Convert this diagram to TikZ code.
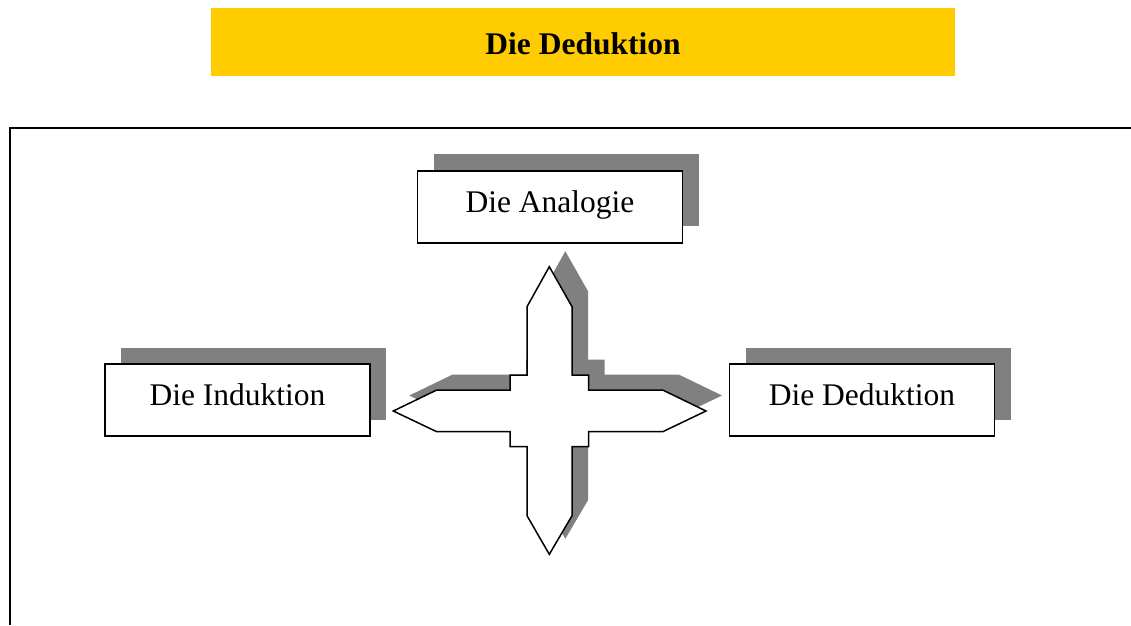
\documentclass[tikz,border=0pt]{standalone}
\usepackage{fontspec}
\setmainfont{Liberation Serif}
\usetikzlibrary{shadows}
\definecolor{titleyellow}{HTML}{FFCC00}
\definecolor{shadowgray}{HTML}{808080}
\newcommand{\fourarrowpath}{%
  (549.3,266.7) -- (572,306.7) -- (572,375) -- (588.7,375) -- (588.7,390)
  -- (662.7,390) -- (706,411) -- (662.7,431.7) -- (588.7,431.7)
  -- (588.7,446.7) -- (572,446.7) -- (572,515.7) -- (549.3,554.3)
  -- (527,515.7) -- (527,446.7) -- (510,446.7) -- (510,431.7)
  -- (436.7,431.7) -- (393.3,411) -- (436.7,390) -- (510,390)
  -- (510,375) -- (527,375) -- (527,306.7) -- cycle}
\tikzset{
  conceptbox/.style={draw=black, line width=1.8pt, fill=white, inner sep=0pt,
    minimum width=265pt, minimum height=72pt, text height=16pt, text depth=5pt,
    font=\fontsize{31.5}{36}\selectfont,
    general shadow={fill=shadowgray, shadow xshift=16pt, shadow yshift=16.5pt}},
  titlebar/.style={fill=titleyellow, inner sep=0pt, minimum width=744pt,
    minimum height=68pt, text height=25pt, text depth=0pt,
    font=\bfseries\fontsize{31.5}{36}\selectfont},
  frameline/.style={line width=2pt},
  crossline/.style={draw=black, line width=1.5pt, fill=white, line join=miter},
  crossshadow/.style={fill=shadowgray}
}
\begin{document}
\begin{tikzpicture}[x=1pt, y=-1pt]
  \useasboundingbox (0,0) rectangle (1131,625);
  % heading
  \node[titlebar] (title) at (583,42) {Die Deduktion};
  % open frame around the diagram
  \coordinate (frameTR) at (1131,128);
  \coordinate (frameTL) at (9.5,128);
  \coordinate (frameBL) at (9.5,625);
  \draw[frameline] (frameTR) -- (frameTL) -- (frameBL);
  % four-way arrow with its shadow
  \fill[crossshadow, xshift=16pt, yshift=15.5pt] \fourarrowpath;
  \draw[crossline] \fourarrowpath;
  % the three concepts
  \node[conceptbox] (analogie) at (550,206.7) {Die Analogie};
  \node[conceptbox] (induktion) at (237.5,400) {Die Induktion};
  \node[conceptbox] (deduktion) at (862,400) {Die Deduktion};
\end{tikzpicture}
\end{document}
